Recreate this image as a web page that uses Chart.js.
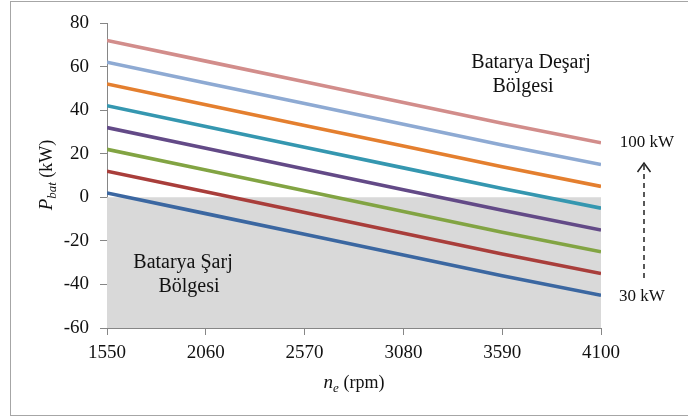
<!DOCTYPE html>
<html>
<head>
<meta charset="utf-8">
<script src="https://cdn.jsdelivr.net/npm/chart.js@4"></script>
<style>
  html, body { margin: 0; padding: 0; background: #fff; }
  #wrap { width: 688px; height: 417px; position: relative; }
</style>
</head>
<body>
<div id="wrap"><canvas id="c" width="688" height="417"></canvas></div>
<script>
// Engine speed (rpm) at each category tick
const speeds = [1550, 2060, 2570, 3080, 3590, 4100];
const yTicks = [-60, -40, -20, 0, 20, 40, 60, 80];

// Battery power (kW) for each demand level, 30 kW .. 100 kW
const p30  = [2, -7.5, -17, -26.5, -36, -45];
const p40  = [12, 2.5, -7, -16.5, -26, -35];
const p50  = [22, 12.5, 3, -6.5, -16, -25];
const p60  = [32, 22.5, 13, 3.5, -6, -15];
const p70  = [42, 32.5, 23, 13.5, 4, -5];
const p80  = [52, 42.5, 33, 23.5, 14, 5];
const p90  = [62, 52.5, 43, 33.5, 24, 15];
const p100 = [72, 62.5, 53, 43.5, 34, 25];

// Charging region boundary (P_bat = 0)
const chargeEdge = [0, 0, 0, 0, 0, 0];

const seriesList = [
  { label: '30 kW',  data: p30,  color: '#3B67A1' },
  { label: '40 kW',  data: p40,  color: '#A93E3B' },
  { label: '50 kW',  data: p50,  color: '#82A443' },
  { label: '60 kW',  data: p60,  color: '#634A87' },
  { label: '70 kW',  data: p70,  color: '#3597B0' },
  { label: '80 kW',  data: p80,  color: '#E47F2F' },
  { label: '90 kW',  data: p90,  color: '#8EAAD3' },
  { label: '100 kW', data: p100, color: '#D28D8B' }
];

const toXY = arr => arr.map((v, i) => ({ x: speeds[i], y: v }));

const datasets = seriesList.map((s, i) => ({
  label: s.label,
  data: toXY(s.data),
  borderColor: s.color,
  backgroundColor: s.color,
  borderWidth: 3.6,
  pointRadius: 0,
  tension: 0,
  fill: false,
  order: i
}));

datasets.push({
  label: 'Şarj',
  data: toXY(chargeEdge),
  borderWidth: 0,
  borderColor: 'rgba(0,0,0,0)',
  backgroundColor: '#D9D9D9',
  pointRadius: 0,
  fill: 'start',
  order: 100
});

const SERIF = '"Liberation Serif", "Times New Roman", serif';
const GRAY = '#868686';

// Annotations: region labels, power range arrow, axis titles, outer frame
const annotations = {
  id: 'annotations',
  afterDraw(chart) {
    const ctx = chart.ctx;
    ctx.save();
    ctx.fillStyle = '#111';
    ctx.textAlign = 'center';
    ctx.textBaseline = 'middle';

    ctx.font = '20px ' + SERIF;
    ctx.fillText('Batarya Deşarj', 531, 63);
    ctx.fillText('Bölgesi', 523, 87);
    ctx.fillText('Batarya Şarj', 183, 263);
    ctx.fillText('Bölgesi', 189, 287);

    ctx.font = '17px ' + SERIF;
    ctx.fillText('100 kW', 647, 143);
    ctx.fillText('30 kW', 642, 297);

    // dashed arrow pointing towards higher demand
    ctx.strokeStyle = '#222';
    ctx.lineWidth = 1.5;
    ctx.setLineDash([5, 4]);
    ctx.beginPath();
    ctx.moveTo(644, 278);
    ctx.lineTo(644, 165);
    ctx.stroke();
    ctx.setLineDash([]);
    ctx.beginPath();
    ctx.moveTo(637.5, 172);
    ctx.lineTo(644, 163);
    ctx.lineTo(650.5, 172);
    ctx.stroke();

    // x axis title: n_e (rpm)
    drawSubTitle(ctx, 'n', 'e', ' (rpm)', 354, 382);

    // y axis title: P_bat (kW), rotated
    ctx.save();
    ctx.translate(46, 175);
    ctx.rotate(-Math.PI / 2);
    drawSubTitle(ctx, 'P', 'bat', ' (kW)', 0, 0);
    ctx.restore();

    // outer frame
    ctx.strokeStyle = '#A6A6A6';
    ctx.lineWidth = 1;
    ctx.strokeRect(10.5, 1.5, 700, 414);
    ctx.restore();
  }
};

function drawSubTitle(ctx, main, sub, rest, cx, cy) {
  const fMain = 'italic 19px ' + SERIF;
  const fSub = 'italic 13px ' + SERIF;
  const fRest = '18px ' + SERIF;
  ctx.font = fMain; const w1 = ctx.measureText(main).width;
  ctx.font = fSub;  const w2 = ctx.measureText(sub).width;
  ctx.font = fRest; const w3 = ctx.measureText(rest).width;
  let x = cx - (w1 + w2 + w3) / 2;
  ctx.textAlign = 'left';
  ctx.textBaseline = 'alphabetic';
  const base = cy + 6;
  ctx.font = fMain; ctx.fillText(main, x, base); x += w1;
  ctx.font = fSub;  ctx.fillText(sub, x, base + 4); x += w2;
  ctx.font = fRest; ctx.fillText(rest, x, base);
  ctx.textAlign = 'center';
  ctx.textBaseline = 'middle';
}

new Chart(document.getElementById('c'), {
  type: 'line',
  data: { datasets },
  options: {
    responsive: false,
    animation: false,
    layout: { padding: { top: 23, right: 87, left: 0, bottom: 0 } },
    plugins: { legend: { display: false }, tooltip: { enabled: false } },
    scales: {
      x: {
        type: 'linear',
        min: speeds[0],
        max: speeds[speeds.length - 1],
        afterBuildTicks: s => { s.ticks = speeds.map(v => ({ value: v })); },
        afterFit: s => { s.height = 89; },
        grid: { drawOnChartArea: false, drawTicks: true, tickLength: 7, color: GRAY },
        border: { color: GRAY, width: 1 },
        ticks: {
          color: '#111', padding: 7, maxRotation: 0,
          font: { family: SERIF, size: 19 },
          callback: v => String(v)
        }
      },
      y: {
        min: -60,
        max: 80,
        afterBuildTicks: s => { s.ticks = yTicks.map(v => ({ value: v })); },
        afterFit: s => { s.width = 107; },
        grid: { drawOnChartArea: false, drawTicks: true, tickLength: 7, color: GRAY },
        border: { color: GRAY, width: 1 },
        ticks: { color: '#111', padding: 11, font: { family: SERIF, size: 19 } }
      }
    }
  },
  plugins: [annotations]
});
</script>
</body>
</html>
